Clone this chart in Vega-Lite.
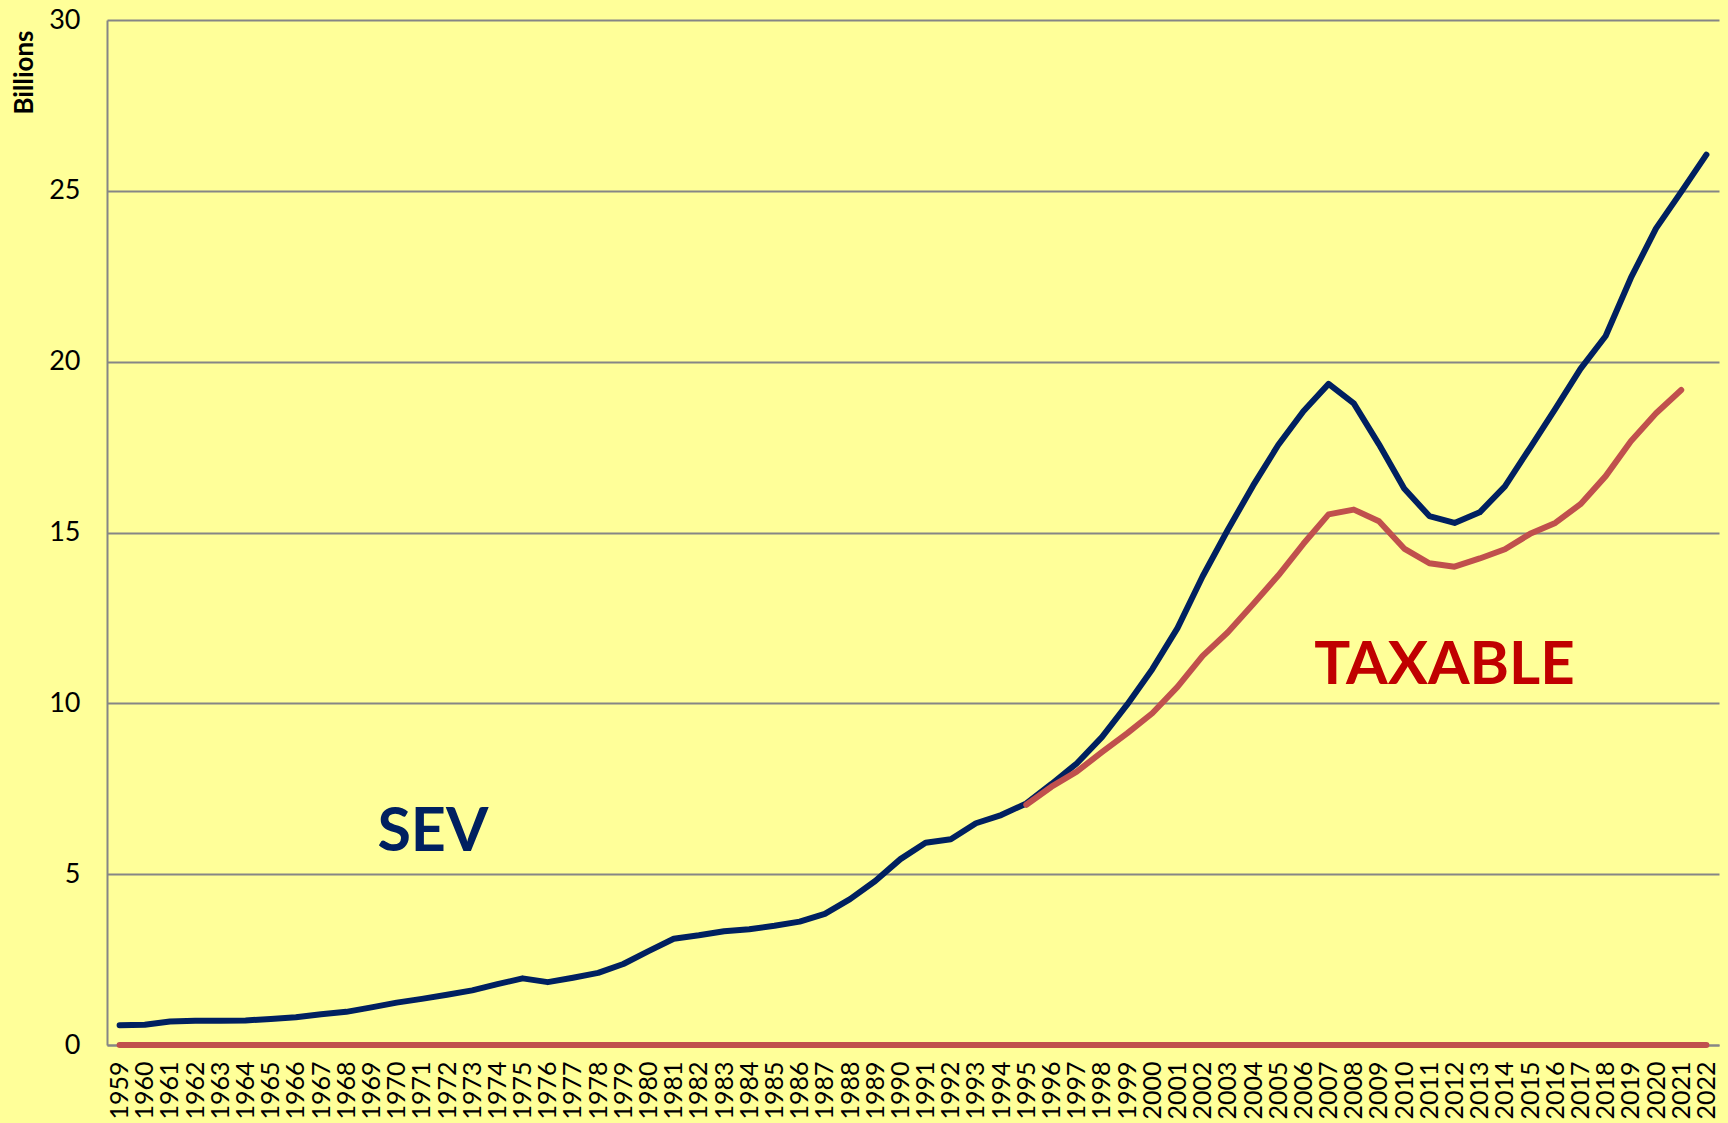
{
  "$schema": "https://vega.github.io/schema/vega-lite/v6.json",
  "autosize": {"type": "none"},
  "width": 1612,
  "height": 1025,
  "padding": {"left": 107, "top": 20, "right": 9, "bottom": 78},
  "background": "#FFFF99",
  "config": {
    "view": {"stroke": null},
    "font": "Lato"
  },
  "datasets": {
    "series": [
      {"year": "1959", "series": "SEV", "value": 0.58},
      {"year": "1960", "series": "SEV", "value": 0.59},
      {"year": "1961", "series": "SEV", "value": 0.69},
      {"year": "1962", "series": "SEV", "value": 0.71},
      {"year": "1963", "series": "SEV", "value": 0.71},
      {"year": "1964", "series": "SEV", "value": 0.72},
      {"year": "1965", "series": "SEV", "value": 0.76},
      {"year": "1966", "series": "SEV", "value": 0.81},
      {"year": "1967", "series": "SEV", "value": 0.9},
      {"year": "1968", "series": "SEV", "value": 0.97},
      {"year": "1969", "series": "SEV", "value": 1.1},
      {"year": "1970", "series": "SEV", "value": 1.24},
      {"year": "1971", "series": "SEV", "value": 1.35},
      {"year": "1972", "series": "SEV", "value": 1.47},
      {"year": "1973", "series": "SEV", "value": 1.6},
      {"year": "1974", "series": "SEV", "value": 1.78},
      {"year": "1975", "series": "SEV", "value": 1.95},
      {"year": "1976", "series": "SEV", "value": 1.84},
      {"year": "1977", "series": "SEV", "value": 1.97},
      {"year": "1978", "series": "SEV", "value": 2.11},
      {"year": "1979", "series": "SEV", "value": 2.37},
      {"year": "1980", "series": "SEV", "value": 2.75},
      {"year": "1981", "series": "SEV", "value": 3.11},
      {"year": "1982", "series": "SEV", "value": 3.21},
      {"year": "1983", "series": "SEV", "value": 3.33},
      {"year": "1984", "series": "SEV", "value": 3.39},
      {"year": "1985", "series": "SEV", "value": 3.49},
      {"year": "1986", "series": "SEV", "value": 3.61},
      {"year": "1987", "series": "SEV", "value": 3.84},
      {"year": "1988", "series": "SEV", "value": 4.27},
      {"year": "1989", "series": "SEV", "value": 4.8},
      {"year": "1990", "series": "SEV", "value": 5.44},
      {"year": "1991", "series": "SEV", "value": 5.92},
      {"year": "1992", "series": "SEV", "value": 6.02},
      {"year": "1993", "series": "SEV", "value": 6.49},
      {"year": "1994", "series": "SEV", "value": 6.73},
      {"year": "1995", "series": "SEV", "value": 7.07},
      {"year": "1996", "series": "SEV", "value": 7.64},
      {"year": "1997", "series": "SEV", "value": 8.24},
      {"year": "1998", "series": "SEV", "value": 9.01},
      {"year": "1999", "series": "SEV", "value": 9.96},
      {"year": "2000", "series": "SEV", "value": 11.0},
      {"year": "2001", "series": "SEV", "value": 12.2},
      {"year": "2002", "series": "SEV", "value": 13.72},
      {"year": "2003", "series": "SEV", "value": 15.08},
      {"year": "2004", "series": "SEV", "value": 16.37},
      {"year": "2005", "series": "SEV", "value": 17.56},
      {"year": "2006", "series": "SEV", "value": 18.55},
      {"year": "2007", "series": "SEV", "value": 19.35},
      {"year": "2008", "series": "SEV", "value": 18.78},
      {"year": "2009", "series": "SEV", "value": 17.58},
      {"year": "2010", "series": "SEV", "value": 16.29},
      {"year": "2011", "series": "SEV", "value": 15.48},
      {"year": "2012", "series": "SEV", "value": 15.28},
      {"year": "2013", "series": "SEV", "value": 15.59},
      {"year": "2014", "series": "SEV", "value": 16.35},
      {"year": "2015", "series": "SEV", "value": 17.48},
      {"year": "2016", "series": "SEV", "value": 18.62},
      {"year": "2017", "series": "SEV", "value": 19.79},
      {"year": "2018", "series": "SEV", "value": 20.75},
      {"year": "2019", "series": "SEV", "value": 22.45},
      {"year": "2020", "series": "SEV", "value": 23.9},
      {"year": "2021", "series": "SEV", "value": 24.97},
      {"year": "2022", "series": "SEV", "value": 26.06},
      {"year": "1995", "series": "TAXABLE", "value": 7.03},
      {"year": "1996", "series": "TAXABLE", "value": 7.56},
      {"year": "1997", "series": "TAXABLE", "value": 8.0},
      {"year": "1998", "series": "TAXABLE", "value": 8.57},
      {"year": "1999", "series": "TAXABLE", "value": 9.12},
      {"year": "2000", "series": "TAXABLE", "value": 9.71},
      {"year": "2001", "series": "TAXABLE", "value": 10.48},
      {"year": "2002", "series": "TAXABLE", "value": 11.39},
      {"year": "2003", "series": "TAXABLE", "value": 12.08},
      {"year": "2004", "series": "TAXABLE", "value": 12.9},
      {"year": "2005", "series": "TAXABLE", "value": 13.74},
      {"year": "2006", "series": "TAXABLE", "value": 14.67},
      {"year": "2007", "series": "TAXABLE", "value": 15.53},
      {"year": "2008", "series": "TAXABLE", "value": 15.67},
      {"year": "2009", "series": "TAXABLE", "value": 15.33},
      {"year": "2010", "series": "TAXABLE", "value": 14.53},
      {"year": "2011", "series": "TAXABLE", "value": 14.1},
      {"year": "2012", "series": "TAXABLE", "value": 14.0},
      {"year": "2013", "series": "TAXABLE", "value": 14.24},
      {"year": "2014", "series": "TAXABLE", "value": 14.51},
      {"year": "2015", "series": "TAXABLE", "value": 14.96},
      {"year": "2016", "series": "TAXABLE", "value": 15.28},
      {"year": "2017", "series": "TAXABLE", "value": 15.83},
      {"year": "2018", "series": "TAXABLE", "value": 16.65},
      {"year": "2019", "series": "TAXABLE", "value": 17.67},
      {"year": "2020", "series": "TAXABLE", "value": 18.49},
      {"year": "2021", "series": "TAXABLE", "value": 19.17},
      {"year": "1959", "series": "ZERO", "value": 0},
      {"year": "2022", "series": "ZERO", "value": 0}
    ],
    "labels": [
      {"year": "1971", "value": 5.68, "text": "SEV"},
      {"year": "2012", "value": 10.58, "text": "TAXABLE"}
    ]
  },
  "encoding": {
    "x": {
      "field": "year",
      "type": "ordinal",
      "scale": {"type": "point", "padding": 0.5},
      "axis": {
        "title": null,
        "labelAngle": -90,
        "labelFont": "Lato",
        "labelFontSize": 25,
        "labelColor": "#000000",
        "labelPadding": 16,
        "labelOverlap": false,
        "ticks": false,
        "grid": false,
        "domainColor": "#868686",
        "domainWidth": 2
      }
    },
    "y": {
      "field": "value",
      "type": "quantitative",
      "scale": {"domain": [0, 30], "nice": false, "zero": true},
      "axis": {
        "values": [0, 5, 10, 15, 20, 25, 30],
        "title": "Billions",
        "titleFont": "Lato",
        "titleFontSize": 26,
        "titleFontWeight": "bold",
        "titleColor": "#000000",
        "titleAngle": -90,
        "titleX": -83,
        "titleY": 52,
        "titleAlign": "center",
        "titleBaseline": "middle",
        "labelFont": "Lato",
        "labelFontSize": 27,
        "labelColor": "#000000",
        "labelPadding": 27,
        "ticks": false,
        "grid": true,
        "gridColor": "#868686",
        "gridWidth": 2,
        "domainColor": "#868686",
        "domainWidth": 2
      }
    }
  },
  "layer": [
    {
      "data": {"name": "series"},
      "mark": {"type": "line", "strokeWidth": 6, "strokeCap": "round", "strokeJoin": "round", "clip": false},
      "encoding": {
        "color": {
          "field": "series",
          "type": "nominal",
          "scale": {"domain": ["SEV", "TAXABLE", "ZERO"], "range": ["#002060", "#C0504D", "#C0504D"]},
          "legend": null
        },
        "detail": {"field": "series"},
        "order": {"field": "year", "type": "ordinal"}
      }
    },
    {
      "data": {"name": "labels"},
      "transform": [{"filter": "datum.text === 'SEV'"}],
      "mark": {"type": "text", "font": "Lato", "fontWeight": "bold", "fontSize": 61, "align": "center", "baseline": "alphabetic", "dx": 11, "color": "#002060"},
      "encoding": {
        "text": {"field": "text"}
      }
    },
    {
      "data": {"name": "labels"},
      "transform": [{"filter": "datum.text === 'TAXABLE'"}],
      "mark": {"type": "text", "font": "Lato", "fontWeight": "bold", "fontSize": 60, "align": "center", "baseline": "alphabetic", "dx": -10, "color": "#C00000"},
      "encoding": {
        "text": {"field": "text"}
      }
    }
  ]
}
